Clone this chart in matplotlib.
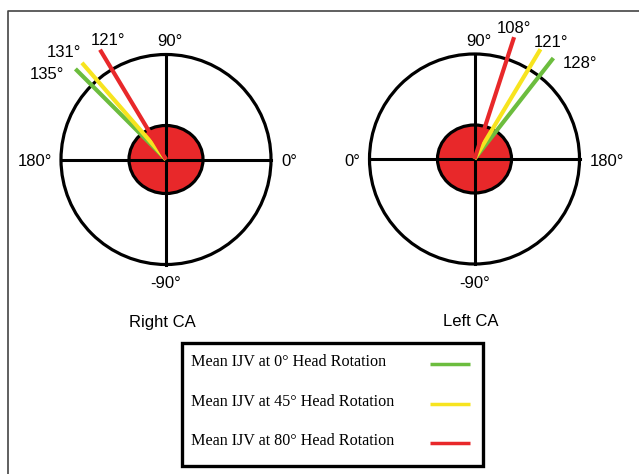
import numpy as np
import matplotlib
matplotlib.use("Agg")
import matplotlib.pyplot as plt
from matplotlib.patches import Circle, Ellipse, Rectangle

# ---- data ----
panels = ["Right CA", "Left CA"]
series = ["Mean IJV at 0° Head Rotation",
          "Mean IJV at 45° Head Rotation",
          "Mean IJV at 80° Head Rotation"]
colors = ["#6cbd3e", "#f7e41f", "#e8282a"]
right_angles = [135, 131, 121]   # degrees, 0 at right, 90 at top
left_angles = [128, 121, 108]    # degrees, 0 at left, 90 at top (mirrored)

W, H = 639, 474
fig = plt.figure(figsize=(W / 100, H / 100), dpi=100)
ax = fig.add_axes([0, 0, 1, 1])
ax.set_xlim(0, W)
ax.set_ylim(H, 0)
ax.set_aspect("equal")
ax.axis("off")

FONT = "Liberation Sans"
SERIF = "Liberation Serif"

# outer frame (top and left edges)
ax.plot([8, 8, W], [H, 10.5, 10.5], color="#444444", lw=1.2, solid_capstyle="butt")

R = 105
R_LINE = 1.22 * R


def draw_panel(cx, cy, angles, mirrored, title, label_pos):
    ax.add_patch(Circle((cx, cy), R, fill=False, ec="black", lw=2.3, zorder=2))
    ax.add_patch(Ellipse((cx, cy), 74, 68, fc="#e8282a", ec="black", lw=2.3, zorder=3))
    ax.plot([cx - R, cx + R], [cy, cy], color="black", lw=2.2, zorder=4)
    ax.plot([cx, cx], [cy - R, cy + R], color="black", lw=2.2, zorder=4)
    for ang, col in zip(angles, colors):
        a = np.deg2rad(180 - ang if mirrored else ang)
        ax.plot([cx, cx + R_LINE * np.cos(a)], [cy, cy - R_LINE * np.sin(a)],
                color=col, lw=3.0, solid_capstyle="butt", zorder=5)
    left_lbl, right_lbl = ("180°", "0°") if not mirrored else ("0°", "180°")
    ax.text(cx - R - 9, cy + 2, left_lbl, ha="right", va="center", fontsize=12, family=FONT)
    ax.text(cx + R + 10, cy + 2, right_lbl, ha="left", va="center", fontsize=12, family=FONT)
    ax.text(cx + 4, cy - 118, "90°", ha="center", va="center", fontsize=12, family=FONT)
    ax.text(cx, cy + 124, "-90°", ha="center", va="center", fontsize=12, family=FONT)
    for ang, (lx, ly) in zip(angles, label_pos):
        ax.text(lx, ly, f"{ang}°", ha="center", va="center", fontsize=12, family=FONT)
    ax.text(cx - 4, 322, title, ha="center", va="center", fontsize=12, family=FONT)


draw_panel(166, 159.5, right_angles, False, panels[0],
           [(47, 74), (64, 52), (108, 40)])
draw_panel(474.5, 159, left_angles, True, panels[1],
           [(580, 63), (551, 42), (514, 28)])

# legend box
ax.add_patch(Rectangle((182, 343), 301, 123, fill=False, ec="black", lw=2.4, zorder=6))
for i, (lab, col) in enumerate(zip(series, colors)):
    y = 362 + i * 39.5
    ax.text(191, y, lab, ha="left", va="center", fontsize=11.6, family=SERIF)
    ax.plot([430, 470], [y + 2, y + 2], color=col, lw=2.5, solid_capstyle="butt")

fig.savefig("out.png", dpi=100, facecolor="white")
